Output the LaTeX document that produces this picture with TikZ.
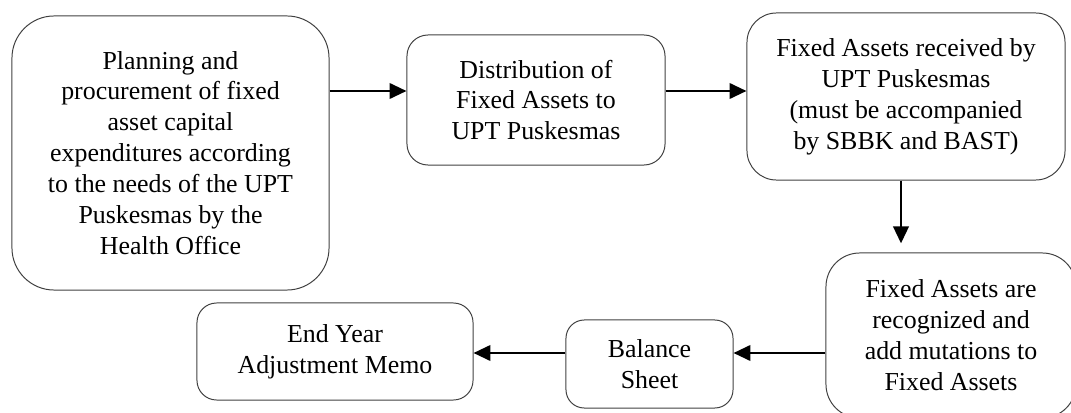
\documentclass[tikz,border=0pt]{standalone}
\usepackage{fontspec}
\setmainfont{Liberation Serif}
\usetikzlibrary{arrows.meta}

\begin{document}
\begin{tikzpicture}[x=0.025cm,y=-0.025cm,font=\fontsize{18.4}{22}\selectfont,
  box/.style={draw=black!75,line width=0.7pt,align=center,inner sep=0pt},
  arr/.style={line width=1.6pt,-{Triangle[length=12pt,width=11pt]}}]
\useasboundingbox (0,0) rectangle (1071,413);
\coordinate (toprow) at (0,91); \coordinate (botrow) at (0,353); \coordinate (downcol) at (901,0);
\node[box,rounded corners=30pt,minimum width=7.925cm,minimum height=6.85cm] (plan) at (170.5,153)
  {Planning and\\ procurement of fixed\\ asset capital\\ expenditures according\\ to the needs of the UPT\\ Puskesmas by the\\ Health Office};
\node[box,rounded corners=15pt,minimum width=6.45cm,minimum height=3.25cm] (dist) at (536,100)
  {Distribution of\\ Fixed Assets to\\ UPT Puskesmas};
\node[box,rounded corners=21pt,minimum width=7.95cm,minimum height=4.175cm] (recv) at (906,96.5)
  {Fixed Assets received by\\ UPT Puskesmas\\ (must be accompanied\\ by SBBK and BAST)};
\node[box,rounded corners=24pt,minimum width=6.25cm,minimum height=4.125cm] (recog) at (951,335.5)
  {Fixed Assets are\\ recognized and\\ add mutations to\\ Fixed Assets};
\node[box,rounded corners=13pt,minimum width=4.175cm,minimum height=2.2cm] (bal) at (649.5,364)
  {Balance\\ Sheet};
\node[box,rounded corners=14pt,minimum width=6.9cm,minimum height=2.425cm] (memo) at (335,351.5)
  {End Year\\ Adjustment Memo};
\draw[arr] (plan.east |- toprow) -- (dist.west |- toprow);
\draw[arr] (dist.east |- toprow) -- (recv.west |- toprow);
\draw[arr,shorten >=6.5pt] (recv.south -| downcol) -- (recog.north -| downcol);
\draw[arr] (recog.west |- botrow) -- (bal.east |- botrow);
\draw[arr] (bal.west |- botrow) -- (memo.east |- botrow);
\end{tikzpicture}
\end{document}
